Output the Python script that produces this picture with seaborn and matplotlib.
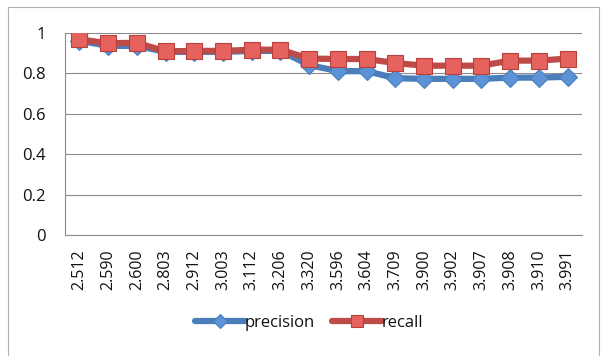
#! /usr/bin/python3
# -*- coding:utf-8 -*-
"""
precision / recall line chart, Excel look, drawn with seaborn.
"""
import matplotlib
matplotlib.use('Agg')
import numpy as np
import pandas as pd
import seaborn as sns
import matplotlib.pyplot as plt
from matplotlib.patches import Rectangle

thresholds = ['2.512', '2.590', '2.600', '2.803', '2.912', '3.003', '3.112', '3.206', '3.320',
              '3.596', '3.604', '3.709', '3.900', '3.902', '3.907', '3.908', '3.910', '3.991']
precision = [0.960, 0.935, 0.935, 0.905, 0.905, 0.905, 0.910, 0.910, 0.840,
             0.810, 0.810, 0.775, 0.772, 0.772, 0.772, 0.778, 0.778, 0.782]
recall = [0.967, 0.948, 0.950, 0.908, 0.910, 0.910, 0.916, 0.916, 0.872,
          0.870, 0.870, 0.850, 0.837, 0.837, 0.837, 0.862, 0.862, 0.872]
y_ticks = [0, 0.2, 0.4, 0.6, 0.8, 1]

sns.set_style('white')
plt.rcParams['font.family'] = ['Open Sans', 'DejaVu Sans']

df = pd.DataFrame({'pos': np.arange(len(thresholds)), 'precision': precision, 'recall': recall})

fig = plt.figure(figsize=(6.02, 3.56), dpi=100)
ax = fig.add_axes([65 / 602, 1 - 235 / 356, (582 - 65) / 602, (235 - 32.7) / 356])

# outer chart frame
fig.patches.append(Rectangle((8 / 602, -0.01), (599 - 8) / 602, 1 - 7 / 356 + 0.01,
                             transform=fig.transFigure, fill=False, edgecolor='#b0b0b0', lw=0.8))

sns.lineplot(data=df, x='pos', y='precision', ax=ax, color='#4a7ebb', lw=4.5,
             marker='D', markersize=9, markerfacecolor='#5b93d6', markeredgecolor='#4a7ebb',
             markeredgewidth=0.8, label='precision')
sns.lineplot(data=df, x='pos', y='recall', ax=ax, color='#be4b48', lw=4.5,
             marker='s', markersize=12, markerfacecolor='#e5625e', markeredgecolor='#b8403d',
             markeredgewidth=0.8, label='recall')

ax.set_xlim(-0.5, len(thresholds) - 0.5)
ax.set_ylim(0, 1)
ax.set_xlabel('')
ax.set_ylabel('')
ax.set_yticks(y_ticks)
ax.set_yticklabels(['0', '0.2', '0.4', '0.6', '0.8', '1'], fontsize=12, color='#111111')
ax.set_xticks(df['pos'])
ax.set_xticklabels(thresholds, rotation=90, fontsize=11.5, color='#111111')
ax.set_xticks(np.arange(-0.5, len(thresholds)), minor=True)
ax.tick_params(axis='x', which='major', length=0, pad=10)
ax.tick_params(axis='x', which='minor', length=5, color='#8c8c8c', width=0.8)
ax.tick_params(axis='y', length=5, color='#8c8c8c', width=0.8, pad=9)

ax.grid(axis='y', color='#8c8c8c', lw=0.8)
ax.set_axisbelow(True)
for side in ['top', 'right']:
    ax.spines[side].set_visible(False)
for side in ['left', 'bottom']:
    ax.spines[side].set_color('#8c8c8c')
    ax.spines[side].set_linewidth(0.8)

leg = ax.legend(loc='center', bbox_to_anchor=(309 / 602, 1 - 323 / 356), bbox_transform=fig.transFigure,
                ncol=2, frameon=False, fontsize=12, handlelength=3.0, handletextpad=0.0,
                columnspacing=1.0, markerscale=0.75)
for t in leg.get_texts():
    t.set_color('#111111')

fig.savefig('out.png', dpi=100)
